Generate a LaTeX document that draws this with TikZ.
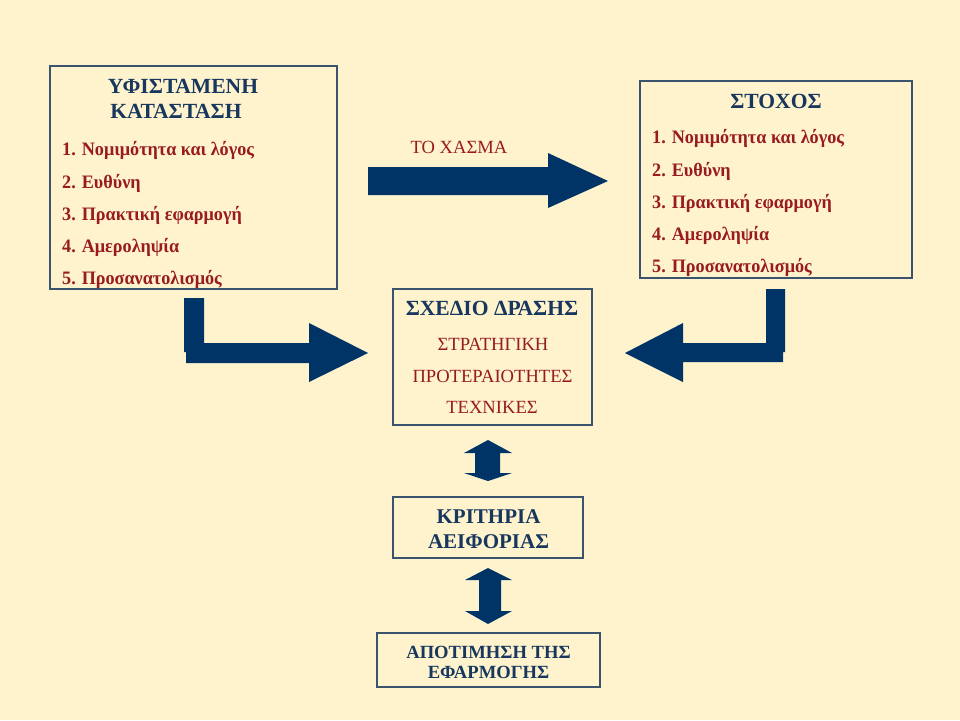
\documentclass[tikz,border=0pt]{standalone}
\usepackage{fontspec}
\setmainfont{Liberation Serif}
\newfontfamily\itemfont[FakeStretch=0.955]{Liberation Serif}
\definecolor{bgc}{HTML}{FFF3CE}
\definecolor{navy}{HTML}{003366}
\definecolor{ttl}{HTML}{17375E}
\definecolor{itm}{HTML}{981B1E}
\definecolor{brd}{HTML}{3A536E}
\tikzset{
  box/.style={draw=brd, line width=1.5pt, fill=none, inner sep=0pt},
  blk/.style={fill=navy, draw=none},
  ttltxt/.style={inner sep=0pt, text=ttl, font=\fontsize{21.6}{25}\selectfont\bfseries, anchor=base},
  crittxt/.style={inner sep=0pt, text=ttl, font=\fontsize{21}{25}\selectfont\bfseries, anchor=base},
  evaltxt/.style={inner sep=0pt, text=ttl, font=\fontsize{18.6}{22}\selectfont\bfseries, anchor=base},
  itmtxt/.style={inner sep=0pt, text=itm, font=\itemfont\fontsize{19}{23}\selectfont\bfseries, anchor=base west},
  regtxt/.style={inner sep=0pt, text=itm, font=\fontsize{18.6}{22}\selectfont, anchor=base},
}
\begin{document}
\begin{tikzpicture}[x=1pt,y=-1pt]
\fill[bgc] (0,0) rectangle (960,720);
\useasboundingbox (0,0) rectangle (960,720);

% boxes
\node[box, minimum width=287pt, minimum height=223pt] (lbox) at (193.5,177.5) {};
\node[box, minimum width=272pt, minimum height=197pt] (rbox) at (776,179.5) {};
\node[box, minimum width=199pt, minimum height=136pt] (mbox) at (492.5,357) {};
\node[box, minimum width=190pt, minimum height=61pt] (kbox) at (488,527.5) {};
\node[box, minimum width=223pt, minimum height=54pt] (abox) at (488.5,660) {};

% left box text
\node[ttltxt] (lt1) at (183,93) {ΥΦΙΣΤΑΜΕΝΗ};
\node[ttltxt] (lt2) at (176,118) {ΚΑΤΑΣΤΑΣΗ};
\node[itmtxt] (l1) at (62,155) {1. Νομιμότητα και λόγος};
\node[itmtxt] (l2) at (62,188) {2. Ευθύνη};
\node[itmtxt] (l3) at (62,220) {3. Πρακτική εφαρμογή};
\node[itmtxt] (l4) at (62,252) {4. Αμεροληψία};
\node[itmtxt] (l5) at (62,284) {5. Προσανατολισμός};

% right box text
\node[ttltxt] (rt) at (776,108) {ΣΤΟΧΟΣ};
\node[itmtxt] (r1) at (652,143) {1. Νομιμότητα και λόγος};
\node[itmtxt] (r2) at (652,176) {2. Ευθύνη};
\node[itmtxt] (r3) at (652,208) {3. Πρακτική εφαρμογή};
\node[itmtxt] (r4) at (652,240) {4. Αμεροληψία};
\node[itmtxt] (r5) at (652,272) {5. Προσανατολισμός};

% gap label
\node[regtxt] (gap) at (459,153) {ΤΟ ΧΑΣΜΑ};

% middle box text
\node[ttltxt] (mt) at (492,315) {ΣΧΕΔΙΟ ΔΡΑΣΗΣ};
\node[regtxt] (m1) at (493,350) {ΣΤΡΑΤΗΓΙΚΗ};
\node[regtxt] (m2) at (492.5,382) {ΠΡΟΤΕΡΑΙΟΤΗΤΕΣ};
\node[regtxt] (m3) at (492,413) {ΤΕΧΝΙΚΕΣ};

% criteria box
\node[crittxt] (k1) at (488.5,523) {ΚΡΙΤΗΡΙΑ};
\node[crittxt] (k2) at (488.5,548) {ΑΕΙΦΟΡΙΑΣ};

% evaluation box
\node[evaltxt] (a1) at (488.5,658) {ΑΠΟΤΙΜΗΣΗ ΤΗΣ};
\node[evaltxt] (a2) at (488.5,678) {ΕΦΑΡΜΟΓΗΣ};

% top arrow
\fill[blk] (368,167) -- (548,167) -- (548,153) -- (608,181) -- (548,208) -- (548,195) -- (368,195) -- cycle;

% left bent arrow
\fill[blk] (184,298) -- (204,298) -- (204,343) -- (309,343) -- (309,323) -- (368,353)
  -- (309,382) -- (309,363) -- (186,363) -- (186,352) -- (184,352) -- cycle;

% right bent arrow
\fill[blk] (766,289) -- (785,289) -- (785,352) -- (783,352) -- (783,362) -- (683,362)
  -- (683,382) -- (625,353) -- (683,323) -- (683,343) -- (766,343) -- cycle;

% double arrow 1
\fill[blk] (488,440) -- (512,453) -- (500,453) -- (500,473) -- (512,473) -- (488,481)
  -- (464,473) -- (475,473) -- (475,453) -- (464,453) -- cycle;

% double arrow 2
\fill[blk] (488,568) -- (512,580) -- (501,580) -- (501,611) -- (512,611) -- (488,624)
  -- (465,611) -- (479,611) -- (479,580) -- (465,580) -- cycle;
\end{tikzpicture}
\end{document}
